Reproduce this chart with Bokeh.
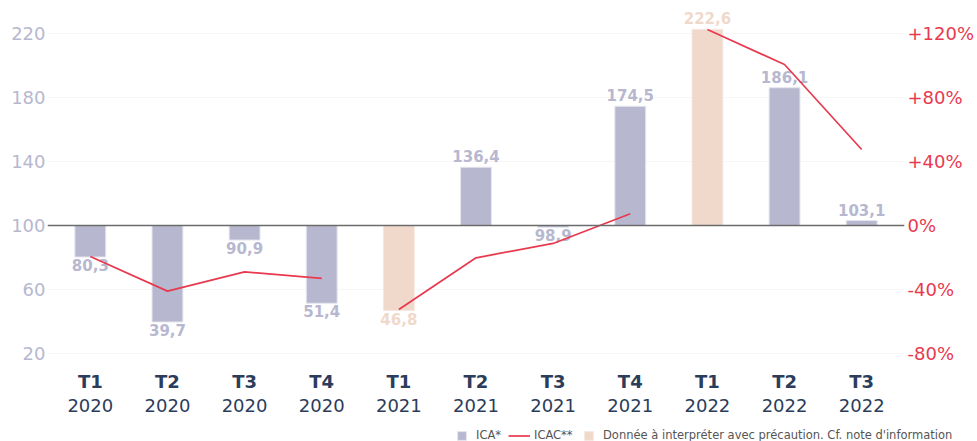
from bokeh.plotting import figure
from bokeh.models import Range1d, LinearAxis, FixedTicker, Span, Legend, LegendItem, ColumnDataSource
from bokeh.core.properties import value
from bokeh.embed import file_html
from bokeh.resources import INLINE

# ---- data ----
quarters = ["T1", "T2", "T3", "T4", "T1", "T2", "T3", "T4", "T1", "T2", "T3"]
years = ["2020", "2020", "2020", "2020", "2021", "2021", "2021", "2021", "2022", "2022", "2022"]
ica = [80.3, 39.7, 90.9, 51.4, 46.8, 136.4, 98.9, 174.5, 222.6, 186.1, 103.1]
caution = [False, False, False, False, True, False, False, False, True, False, False]
icac = [-19.4, -41.0, -29.0, -33.0, -52.5, -20.2, -11.2, 7.3, 122.5, 100.6, 47.5]
left_ticks = [20, 60, 100, 140, 180, 220]
right_ticks = [-80, -40, 0, 40, 80, 120]
right_labels = ["-80%", "-40%", "0%", "+40%", "+80%", "+120%"]
legend_labels = ["ICA*", "ICAC**", "Donnée à interpréter avec précaution. Cf. note d'information"]

FONT = "DejaVu Sans"
BAR = "#b7b8d0"
BAR_C = "#f0d9cb"
RED = "#e8394f"
NAVY = "#2c3d5b"

p = figure(width=977, height=425, output_backend="svg", toolbar_location=None,
           x_range=Range1d(-0.555, 10.555), y_range=Range1d(10, 240),
           min_border_left=47, min_border_right=73, min_border_top=1, min_border_bottom=56)
p.extra_y_ranges = {"pct": Range1d(-90, 140)}
p.outline_line_color = None
p.background_fill_color = "white"
p.border_fill_color = "white"

xs = list(range(len(ica)))
normal = dict(x=[x for x, c in zip(xs, caution) if not c], top=[v for v, c in zip(ica, caution) if not c])
caut = dict(x=[x for x, c in zip(xs, caution) if c], top=[v for v, c in zip(ica, caution) if c])

bar_style = dict(fill_color=BAR, line_color="#e4e5ee", line_width=1)
barc_style = dict(fill_color=BAR_C, line_color="#f5e8e0", line_width=1)
line_style = dict(line_color=RED, line_width=1.7)

p.vbar(x="x", top="top", bottom=100, width=0.4, source=ColumnDataSource(normal), **bar_style)
p.vbar(x="x", top="top", bottom=100, width=0.4, source=ColumnDataSource(caut), **barc_style)

# labels
def lab(v):
    return ("%.1f" % v).replace(".", ",")

for cond_c, col in ((False, BAR), (True, BAR_C)):
    for above in (True, False):
        lx = [x for x, v, c in zip(xs, ica, caution) if c == cond_c and (v >= 100) == above]
        ly = [v for x, v, c in zip(xs, ica, caution) if c == cond_c and (v >= 100) == above]
        if not lx:
            continue
        p.text(x=lx, y=ly, text=[lab(v) for v in ly], text_font=value(FONT),
               text_font_size="15px", text_font_style="bold", text_color=col,
               text_align="center", text_baseline="alphabetic",
               y_offset=-11 if above else 8)

p.add_layout(Span(location=100, dimension="width", line_color="#6b6b6b", line_width=1.5))

# ICAC lines per year
for yr in ("2020", "2021", "2022"):
    lx = [x for x, y in zip(xs, years) if y == yr]
    ly = [v for v, y in zip(icac, years) if y == yr]
    p.line(lx, ly, y_range_name="pct", **line_style)

# axes
p.yaxis.ticker = FixedTicker(ticks=left_ticks)
p.yaxis.major_label_text_color = "#b7b8cf"
p.yaxis.major_label_text_font = FONT
p.yaxis.major_label_text_font_size = "18px"
p.yaxis.major_label_standoff = 2
p.yaxis.axis_line_color = None
p.yaxis.major_tick_line_color = None
p.yaxis.minor_tick_line_color = None
p.yaxis.major_tick_out = 0
p.ygrid.ticker = FixedTicker(ticks=left_ticks)
p.ygrid.grid_line_color = "#f6f6f6"
p.xgrid.grid_line_color = None

ra = LinearAxis(y_range_name="pct", ticker=FixedTicker(ticks=right_ticks),
                major_label_overrides={t: l for t, l in zip(right_ticks, right_labels)})
ra.major_label_text_color = RED
ra.major_label_text_font = FONT
ra.major_label_text_font_size = "18px"
ra.major_label_standoff = 3
ra.axis_line_color = None
ra.major_tick_line_color = None
ra.minor_tick_line_color = None
ra.major_tick_out = 0
p.add_layout(ra, "right")

xa = p.xaxis[0]
xa.ticker = FixedTicker(ticks=xs)
xa.major_label_overrides = {i: q for i, q in zip(xs, quarters)}
xa.major_label_text_font = FONT
xa.major_label_text_font_size = "18px"
xa.major_label_text_font_style = "bold"
xa.major_label_text_color = NAVY
xa.major_label_standoff = 1
xa.axis_line_color = None
xa.major_tick_line_color = None
xa.minor_tick_line_color = None
xa.major_tick_out = 0

xa2 = LinearAxis(ticker=FixedTicker(ticks=xs), major_label_overrides={i: y for i, y in zip(xs, years)})
xa2.major_label_text_font = FONT
xa2.major_label_text_font_size = "18px"
xa2.major_label_text_color = NAVY
xa2.major_label_standoff = 4
xa2.axis_line_color = None
xa2.major_tick_line_color = None
xa2.minor_tick_line_color = None
xa2.major_tick_out = 0
p.add_layout(xa2, "below")

# legend strip (separate small figure so the legend is not clipped by the chart frame)
lf = figure(width=977, height=16, output_backend="svg", toolbar_location=None,
            x_axis_location=None, y_axis_location=None,
            min_border_left=0, min_border_right=0, min_border_top=0, min_border_bottom=0,
            x_range=Range1d(0, 1), y_range=Range1d(0, 1))
lf.outline_line_color = None
lf.grid.grid_line_color = None
lf.background_fill_color = "white"
lf.border_fill_color = "white"
# proxy glyphs placed outside the visible ranges, only used for the legend swatches
d_bar = lf.vbar(x=[5], top=[6], bottom=[5], width=0.1, **bar_style)
d_line = lf.line(x=[5, 6], y=[5, 5], **line_style)
d_barc = lf.vbar(x=[5], top=[6], bottom=[5], width=0.1, **barc_style)

for lbl, rend, vx, gw, so in zip(legend_labels, [d_bar, d_line, d_barc], [456, 508, 583], [11, 22, 11], [9, 4, 9]):
    lg = Legend(items=[LegendItem(label=lbl, renderers=[rend])], location=(vx, -1),
                padding=0, margin=0, spacing=0, border_line_color=None, background_fill_alpha=0,
                label_text_font=FONT, label_text_font_size="11.5px", label_text_color="#555555",
                glyph_width=gw, glyph_height=11, label_height=11, label_standoff=so)
    lf.add_layout(lg, "center")

open("out.html", "w").write(file_html([p, lf], INLINE))
